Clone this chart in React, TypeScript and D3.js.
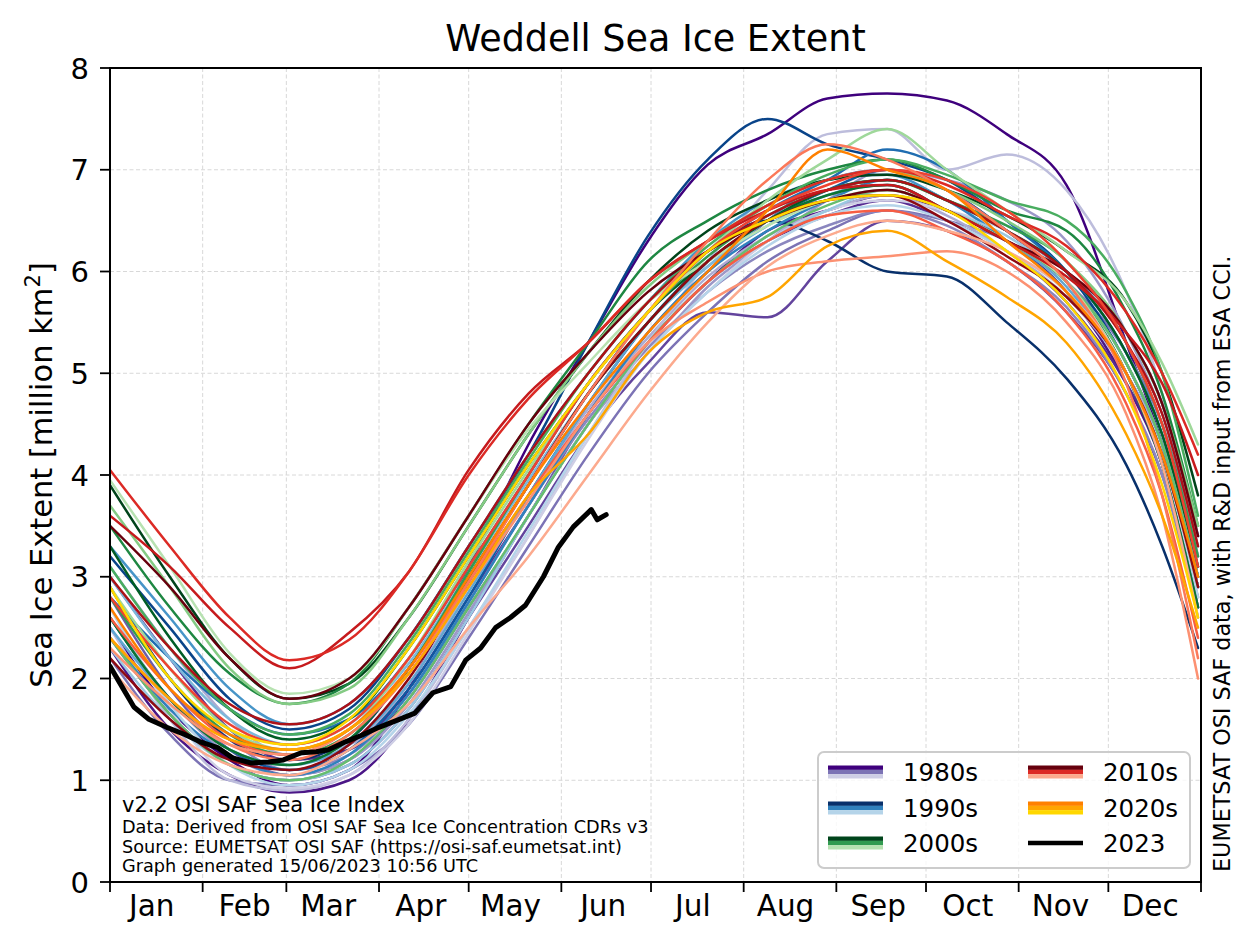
import React from "react";
import * as d3 from "d3";

// ---------- DATA ----------
const KNOT_DAYS = [0, 20, 40, 60, 80, 100, 120, 140, 160, 180, 200, 220, 240, 260, 280, 300, 320, 340, 352, 364];

const YEARS_1980S = [1979, 1980, 1981, 1982, 1983, 1984, 1985, 1986, 1987, 1988, 1989];
const EXTENT_1980S = [
  [2.5, 1.7, 1.2, 0.95, 1.1, 1.9, 3.1, 4.3, 5.3, 6.3, 7.05, 7.35, 7.7, 7.75, 7.68, 7.35, 6.85, 5.3, 4.3, 2.9],
  [2.3, 1.5, 1.05, 0.88, 1.0, 1.6, 2.6, 3.6, 4.5, 5.3, 5.9, 6.4, 6.6, 6.75, 6.6, 6.3, 5.8, 4.9, 4.1, 2.7],
  [3.0, 2.2, 1.5, 1.2, 1.3, 1.9, 2.8, 3.7, 4.6, 5.3, 5.9, 6.3, 6.55, 6.7, 6.5, 6.2, 5.7, 4.9, 4.2, 2.9],
  [2.4, 1.65, 1.15, 1.0, 1.15, 1.7, 2.6, 3.5, 4.4, 5.1, 5.6, 5.55, 6.1, 6.5, 6.4, 6.1, 5.6, 4.8, 4.0, 2.8],
  [2.8, 1.9, 1.3, 1.05, 1.2, 1.8, 2.7, 3.6, 4.6, 5.4, 6.0, 6.5, 6.9, 7.0, 6.8, 6.4, 5.9, 5.1, 4.3, 3.0],
  [2.2, 1.45, 1.0, 0.95, 1.1, 1.55, 2.4, 3.3, 4.2, 5.0, 5.6, 6.1, 6.4, 6.6, 6.5, 6.3, 5.9, 5.2, 4.5, 3.3],
  [2.9, 2.0, 1.4, 1.1, 1.25, 1.85, 2.75, 3.7, 4.55, 5.25, 5.8, 6.2, 6.45, 6.6, 6.45, 6.1, 5.65, 4.8, 4.0, 2.6],
  [2.6, 1.8, 1.25, 1.05, 1.2, 1.75, 2.65, 3.6, 4.5, 5.2, 5.85, 6.3, 6.7, 7.0, 6.9, 6.7, 6.3, 5.4, 4.6, 3.4],
  [3.1, 2.3, 1.6, 1.25, 1.35, 1.95, 2.9, 3.8, 4.65, 5.35, 5.95, 6.35, 6.6, 6.75, 6.55, 6.2, 5.75, 5.0, 4.3, 3.1],
  [2.5, 1.6, 1.0, 0.9, 1.05, 1.6, 2.5, 3.4, 4.4, 5.3, 6.1, 6.8, 7.35, 7.4, 7.0, 7.15, 6.8, 5.8, 4.8, 3.2],
  [2.7, 1.7, 1.05, 0.92, 1.05, 1.55, 2.45, 3.4, 4.35, 5.2, 5.8, 6.3, 6.6, 6.7, 6.6, 6.4, 6.0, 5.2, 4.4, 3.1],
];

const YEARS_1990S = [1990, 1991, 1992, 1993, 1994, 1995, 1996, 1997, 1998, 1999];
const EXTENT_1990S = [
  [2.9, 2.0, 1.4, 1.2, 1.4, 2.1, 3.0, 3.9, 4.8, 5.6, 6.2, 6.5, 6.3, 6.0, 5.95, 5.5, 4.95, 4.1, 3.3, 2.3],
  [3.2, 2.5, 1.8, 1.5, 1.7, 2.4, 3.3, 4.2, 5.3, 6.35, 7.1, 7.5, 7.25, 7.1, 6.9, 6.5, 6.0, 5.1, 4.3, 3.0],
  [2.6, 1.8, 1.3, 1.1, 1.3, 1.9, 2.8, 3.8, 4.7, 5.5, 6.1, 6.5, 6.8, 7.0, 6.8, 6.4, 5.9, 5.0, 4.2, 2.9],
  [2.8, 2.2, 1.7, 1.45, 1.6, 2.2, 3.1, 4.0, 4.9, 5.6, 6.2, 6.6, 6.9, 7.2, 7.0, 6.5, 6.0, 5.2, 4.4, 3.0],
  [2.4, 1.7, 1.25, 1.05, 1.25, 1.85, 2.75, 3.7, 4.6, 5.4, 6.0, 6.4, 6.7, 6.9, 6.7, 6.3, 5.8, 5.0, 4.1, 2.7],
  [3.3, 2.6, 1.9, 1.55, 1.75, 2.4, 3.3, 4.2, 5.0, 5.7, 6.3, 6.7, 6.9, 6.95, 6.7, 6.4, 6.0, 5.4, 4.7, 3.4],
  [2.5, 1.8, 1.3, 1.15, 1.35, 1.95, 2.85, 3.8, 4.7, 5.5, 6.05, 6.45, 6.75, 6.85, 6.6, 6.3, 5.85, 5.0, 4.2, 2.9],
  [3.0, 2.2, 1.6, 1.35, 1.55, 2.15, 3.05, 3.95, 4.8, 5.5, 6.05, 6.5, 6.8, 6.9, 6.7, 6.4, 6.0, 5.3, 4.5, 3.2],
  [2.3, 1.6, 1.15, 1.0, 1.15, 1.7, 2.6, 3.6, 4.5, 5.3, 5.9, 6.3, 6.6, 6.8, 6.6, 6.35, 5.9, 5.1, 4.3, 3.0],
  [2.7, 1.75, 1.15, 0.95, 1.1, 1.65, 2.5, 3.45, 4.4, 5.2, 5.8, 6.25, 6.55, 6.65, 6.5, 6.2, 5.8, 5.0, 4.2, 2.8],
];

const YEARS_2000S = [2000, 2001, 2002, 2003, 2004, 2005, 2006, 2007, 2008, 2009];
const EXTENT_2000S = [
  [3.9, 3.0, 2.2, 1.8, 1.95, 2.6, 3.5, 4.4, 5.2, 5.9, 6.4, 6.7, 6.9, 6.95, 6.8, 6.55, 6.2, 5.7, 5.0, 3.8],
  [3.3, 2.4, 1.7, 1.4, 1.6, 2.3, 3.2, 4.1, 4.9, 5.6, 6.1, 6.5, 6.8, 6.9, 6.7, 6.4, 6.0, 5.2, 4.4, 3.1],
  [2.6, 1.8, 1.3, 1.15, 1.4, 2.1, 3.0, 3.9, 4.8, 5.5, 6.1, 6.5, 6.75, 6.85, 6.6, 6.3, 5.9, 5.0, 4.1, 2.7],
  [3.5, 2.7, 2.05, 1.75, 1.95, 2.7, 3.6, 4.5, 5.3, 6.1, 6.5, 6.8, 7.0, 7.1, 6.9, 6.6, 6.4, 5.6, 4.8, 3.5],
  [2.8, 2.0, 1.45, 1.25, 1.45, 2.1, 3.05, 4.0, 4.9, 5.6, 6.15, 6.55, 6.8, 6.9, 6.7, 6.45, 6.1, 5.3, 4.5, 3.2],
  [3.1, 2.3, 1.7, 1.45, 1.65, 2.35, 3.25, 4.15, 5.0, 5.7, 6.25, 6.65, 6.95, 7.1, 6.95, 6.7, 6.5, 5.8, 5.0, 3.6],
  [2.4, 1.65, 1.15, 1.0, 1.2, 1.8, 2.7, 3.6, 4.5, 5.3, 5.9, 6.35, 6.65, 6.8, 6.6, 6.3, 5.9, 5.1, 4.3, 3.0],
  [3.7, 2.9, 2.1, 1.75, 1.9, 2.6, 3.5, 4.4, 5.2, 5.85, 6.3, 6.65, 6.9, 7.0, 6.8, 6.5, 6.1, 5.4, 4.7, 3.5],
  [2.9, 2.1, 1.5, 1.3, 1.5, 2.2, 3.15, 4.05, 4.9, 5.6, 6.2, 6.7, 7.1, 7.4, 7.0, 6.6, 6.2, 5.7, 5.1, 4.3],
  [3.95, 3.1, 2.25, 1.85, 2.0, 2.7, 3.6, 4.45, 5.1, 5.7, 6.1, 6.45, 6.7, 6.8, 6.6, 6.3, 5.9, 5.0, 4.2, 2.9],
];

const YEARS_2010S = [2010, 2011, 2012, 2013, 2014, 2015, 2016, 2017, 2018, 2019];
const EXTENT_2010S = [
  [3.5, 2.9, 2.2, 1.8, 2.0, 2.7, 3.6, 4.5, 5.2, 5.8, 6.2, 6.5, 6.7, 6.8, 6.6, 6.3, 6.0, 5.4, 4.7, 3.4],
  [2.2, 1.6, 1.2, 1.1, 1.35, 2.0, 2.95, 3.9, 4.8, 5.5, 6.1, 6.5, 6.7, 6.75, 6.5, 6.15, 5.75, 5.0, 4.2, 2.9],
  [3.0, 2.3, 1.75, 1.55, 1.75, 2.4, 3.3, 4.2, 5.0, 5.7, 6.2, 6.55, 6.8, 6.9, 6.7, 6.4, 6.0, 5.3, 4.6, 3.3],
  [3.6, 3.1, 2.5, 2.1, 2.45, 3.05, 4.05, 4.8, 5.3, 5.9, 6.3, 6.6, 6.8, 6.85, 6.6, 6.3, 5.95, 5.4, 4.9, 4.0],
  [4.05, 3.3, 2.6, 2.18, 2.38, 3.05, 4.0, 4.75, 5.3, 5.9, 6.3, 6.65, 6.9, 7.0, 6.85, 6.55, 6.25, 5.6, 5.0, 4.2],
  [2.8, 2.1, 1.55, 1.35, 1.55, 2.2, 3.1, 4.0, 4.9, 5.6, 6.2, 6.6, 6.85, 7.0, 6.9, 6.6, 6.1, 5.3, 4.5, 3.1],
  [2.6, 1.9, 1.4, 1.25, 1.5, 2.1, 2.95, 3.8, 4.6, 5.3, 5.9, 6.3, 6.55, 6.6, 6.4, 6.1, 5.6, 4.7, 3.8, 2.4],
  [2.4, 1.8, 1.35, 1.2, 1.45, 2.05, 2.95, 3.9, 4.8, 5.6, 6.3, 6.9, 7.25, 7.1, 6.8, 6.4, 5.9, 4.9, 3.8, 2.2],
  [2.3, 1.75, 1.35, 1.25, 1.5, 2.05, 2.9, 3.75, 4.6, 5.3, 5.7, 6.0, 6.1, 6.15, 6.2, 6.0, 5.5, 4.6, 3.6, 2.0],
  [2.1, 1.5, 1.15, 1.05, 1.3, 1.75, 2.5, 3.2, 4.0, 4.8, 5.5, 6.05, 6.35, 6.5, 6.4, 6.2, 5.8, 5.0, 4.1, 2.6],
];

const YEARS_2020S = [2020, 2021, 2022];
const EXTENT_2020S = [
  [2.7, 1.9, 1.45, 1.3, 1.5, 2.1, 3.0, 3.9, 4.7, 5.4, 6.0, 6.6, 7.2, 7.0, 6.8, 6.3, 5.8, 5.0, 4.2, 3.0],
  [2.4, 1.8, 1.4, 1.3, 1.5, 2.05, 2.9, 3.8, 4.4, 5.2, 5.6, 5.75, 6.25, 6.4, 6.1, 5.75, 5.3, 4.4, 3.6, 2.5],
  [2.9, 2.0, 1.5, 1.35, 1.6, 2.3, 3.2, 4.1, 4.9, 5.6, 6.2, 6.5, 6.7, 6.75, 6.6, 6.2, 5.7, 4.8, 3.9, 2.6],
];

const DAYS_2023 = [0, 4, 8, 13, 19, 25, 30, 36, 41, 47, 53, 58, 64, 69, 73, 79, 84, 90, 97, 102, 108, 114, 119, 124, 129, 134, 139, 145, 150, 155, 161, 163, 166];
const EXTENT_2023 = [2.12, 1.92, 1.72, 1.6, 1.52, 1.45, 1.38, 1.32, 1.22, 1.17, 1.18, 1.2, 1.27, 1.28, 1.3, 1.38, 1.44, 1.52, 1.6, 1.66, 1.86, 1.92, 2.18, 2.3, 2.5, 2.6, 2.72, 3.0, 3.29, 3.49, 3.66, 3.56, 3.61];

const MONTH_LABELS = ["Jan", "Feb", "Mar", "Apr", "May", "Jun", "Jul", "Aug", "Sep", "Oct", "Nov", "Dec"];
const MONTH_START_DAYS = [0, 31, 59, 90, 120, 151, 181, 212, 243, 273, 304, 334, 365];
const MONTH_LABEL_DAYS = [14, 45, 73, 104, 134, 165, 195, 226, 257, 287, 318, 348];
const Y_TICKS = [0, 1, 2, 3, 4, 5, 6, 7, 8];

const DECADE_LABELS = ["1980s", "1990s", "2000s", "2010s", "2020s"];
const ORANGES_2020S = ["#ff8000", "#ffa500", "#ffd700"];

const NOTES = [
  "v2.2 OSI SAF Sea Ice Index",
  "Data: Derived from OSI SAF Sea Ice Concentration CDRs v3",
  "Source: EUMETSAT OSI SAF (https://osi-saf.eumetsat.int)",
  "Graph generated 15/06/2023 10:56 UTC",
];

// ---------- LAYOUT ----------
const W = 1255;
const H = 943;
const L = 110;
const R = 1201;
const T = 68;
const B = 882;
const FONT = "DejaVu Sans, sans-serif";

const x = d3.scaleLinear().domain([0, 365]).range([L, R]);
const y = d3.scaleLinear().domain([0, 8]).range([B, T]);

function ramp(interp: (t: number) => string, n: number): string[] {
  const out: string[] = [];
  for (let i = 0; i < n; i++) out.push(interp(n === 1 ? 1 : 1 - (i * 0.7) / (n - 1)));
  return out;
}

const decadeSets = [
  { years: YEARS_1980S, data: EXTENT_1980S, colors: ramp(d3.interpolatePurples, YEARS_1980S.length) },
  { years: YEARS_1990S, data: EXTENT_1990S, colors: ramp(d3.interpolateBlues, YEARS_1990S.length) },
  { years: YEARS_2000S, data: EXTENT_2000S, colors: ramp(d3.interpolateGreens, YEARS_2000S.length) },
  { years: YEARS_2010S, data: EXTENT_2010S, colors: ramp(d3.interpolateReds, YEARS_2010S.length) },
  { years: YEARS_2020S, data: EXTENT_2020S, colors: ORANGES_2020S },
];

const line = d3
  .line<[number, number]>()
  .x((d) => x(d[0]))
  .y((d) => y(d[1]))
  .curve(d3.curveMonotoneX);

const line2023 = d3
  .line<[number, number]>()
  .x((d) => x(d[0]))
  .y((d) => y(d[1]))
  .curve(d3.curveLinear);

export default function App() {
  const yearLines: { key: string; d: string; color: string }[] = [];
  decadeSets.forEach((ds) => {
    ds.years.forEach((yr, i) => {
      const pts: [number, number][] = KNOT_DAYS.map((dd, k) => [dd, ds.data[i][k]]);
      yearLines.push({ key: String(yr), d: line(pts) || "", color: ds.colors[i] });
    });
  });
  const pts2023: [number, number][] = DAYS_2023.map((dd, k) => [dd, EXTENT_2023[k]]);
  const d2023 = line2023(pts2023) || "";

  const legendEntries = DECADE_LABELS.map((lab, i) => {
    const c = decadeSets[i].colors;
    return { lab, stripes: [c[0], c[Math.floor((c.length - 1) / 2)], c[c.length - 1]] };
  });

  const legX = 818;
  const legY = 752;
  const rowY = [772, 808, 843];

  return (
    <div style={{ position: "absolute", left: 0, top: 0 }}>
      <svg width={W} height={H} style={{ display: "block", background: "#fff" }} fontFamily={FONT}>
        <defs>
          <clipPath id="plotclip">
            <rect x={L} y={T} width={R - L} height={B - T} />
          </clipPath>
        </defs>
        <rect x={0} y={0} width={W} height={H} fill="#fff" />
        {/* grid */}
        <g stroke="#d8d8d8" strokeWidth={1} strokeDasharray="4,2.5">
          {Y_TICKS.slice(1, -1).map((v) => (
            <line key={"gy" + v} x1={L} x2={R} y1={y(v)} y2={y(v)} />
          ))}
          {MONTH_START_DAYS.slice(1, -1).map((dd) => (
            <line key={"gx" + dd} x1={x(dd)} x2={x(dd)} y1={T} y2={B} />
          ))}
        </g>
        {/* lines */}
        <g clipPath="url(#plotclip)" fill="none" strokeLinejoin="round" strokeLinecap="round">
          {yearLines.map((l) => (
            <path key={l.key} d={l.d} stroke={l.color} strokeWidth={2.5} />
          ))}
          <path d={d2023} stroke="#000" strokeWidth={5} />
        </g>
        {/* notes */}
        {NOTES.map((t, i) => (
          <text key={"n" + i} x={122} y={[812, 833, 853, 872][i]} fontSize={i === 0 ? 21 : 17.7} fill="#000">
            {t}
          </text>
        ))}
        {/* legend */}
        <rect x={legX} y={legY} width={372} height={116} rx={6} fill="#fff" fillOpacity={0.8} stroke="#cccccc" strokeWidth={2} />
        {legendEntries.map((e, i) => {
          const col = i < 3 ? 0 : 1;
          const row = i < 3 ? i : i - 3;
          const hx = col === 0 ? 828 : 1028;
          const cy = rowY[row];
          return (
            <g key={e.lab}>
              {e.stripes.map((c, k) => (
                <rect key={k} x={hx} y={cy - 6.5 + k * 4.3} width={55} height={4.4} fill={c} />
              ))}
              <text x={hx + 75} y={cy + 8.5} fontSize={24.5} fill="#000">
                {e.lab}
              </text>
            </g>
          );
        })}
        <line x1={1028} x2={1083} y1={rowY[2]} y2={rowY[2]} stroke="#000" strokeWidth={4.6} />
        <text x={1103} y={rowY[2] + 8.5} fontSize={24.5} fill="#000">
          2023
        </text>
        {/* axes frame */}
        <rect x={L} y={T} width={R - L} height={B - T} fill="none" stroke="#000" strokeWidth={2} />
        {/* y ticks */}
        {Y_TICKS.map((v) => (
          <g key={"yt" + v}>
            <line x1={L - 10} x2={L} y1={y(v)} y2={y(v)} stroke="#000" strokeWidth={1.8} />
            <text x={L - 21} y={y(v) + 10.5} textAnchor="end" fontSize={29} fill="#000">
              {v}
            </text>
          </g>
        ))}
        {/* x ticks */}
        {MONTH_START_DAYS.map((dd) => (
          <line key={"xt" + dd} x1={x(dd)} x2={x(dd)} y1={B} y2={B + 10} stroke="#000" strokeWidth={1.8} />
        ))}
        {MONTH_LABELS.map((m, i) => (
          <text key={m} x={x(MONTH_LABEL_DAYS[i])} y={916} textAnchor="middle" fontSize={29.5} fill="#000">
            {m}
          </text>
        ))}
        {/* y label */}
        <text transform={`translate(52,${(T + B) / 2}) rotate(-90)`} textAnchor="middle" fontSize={30.5} fill="#000">
          Sea Ice Extent [million km
          <tspan fontSize={21} dy={-12}>2</tspan>
          <tspan dy={12}>]</tspan>
        </text>
        {/* title */}
        <text x={(L + R) / 2} y={51} textAnchor="middle" fontSize={36.5} fill="#000">
          Weddell Sea Ice Extent
        </text>
        {/* right note */}
        <text transform={`translate(1230,872) rotate(-90)`} textAnchor="start" fontSize={22.3} fill="#000">
          EUMETSAT OSI SAF data, with R&amp;D input from ESA CCI.
        </text>
      </svg>
    </div>
  );
}
